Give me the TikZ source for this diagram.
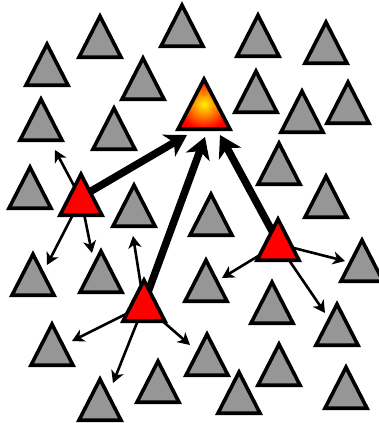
\documentclass[tikz,border=0pt]{standalone}
\usetikzlibrary{arrows.meta, shapes.geometric, backgrounds}
\definecolor{peergray}{HTML}{969696}
\definecolor{seedred}{HTML}{FF0000}
\definecolor{hubyellow}{HTML}{FFF200}

\begin{document}
\begin{tikzpicture}[x=1pt, y=-1pt,
    tri/.style={isosceles triangle, shape border rotate=90, isosceles triangle stretches,
      minimum width=42pt, minimum height=41pt, inner sep=0pt, draw=black, line width=3.6pt,
      anchor=lower side},
    peer/.style={tri, fill=peergray},
    seed/.style={tri, fill=seedred},
    hub/.style={tri, minimum width=52pt, minimum height=50pt, inner color=hubyellow, outer color=seedred},
    bigarrow/.style={-{Stealth[length=21pt, width=25pt, inset=6pt]}, line width=7.5pt},
    smallarrow/.style={-{Stealth[length=12pt, width=13pt, inset=3.5pt]}, line width=2.6pt}]
  \useasboundingbox (0,0) rectangle (379,423);

  % grey neighbours (x and base line y)
  \foreach \n/\x/\y in {1/47/87, 2/100/59, 3/182/48, 4/143/101, 5/41/142, 6/114/151,
      7/30/210, 8/134/228, 9/258/58, 10/326/65, 11/256/114, 12/302/134, 13/348/125,
      14/279/186, 15/326/219, 16/211/237, 17/33/297, 18/101/294, 19/52/367,
      20/100/422, 21/158/404, 22/362/283, 23/206/303, 24/272/325, 25/337/347,
      26/207/377, 27/279/387, 28/239/415, 29/346/410}
    \node[peer] (g\n) at (\x,\y) {};

  % target and the three senders
  \node[hub] (gold) at (204,131) {};
  \node[seed] (redA) at (81,217) {};
  \node[seed] (redB) at (144,323) {};
  \node[seed] (redC) at (278,262) {};

  % free ends of the small arrows
  \coordinate (a1) at (55,150);
  \coordinate (a2) at (47,265);
  \coordinate (a3) at (92,253);
  \coordinate (b1) at (133,236);
  \coordinate (b2) at (72,341);
  \coordinate (b3) at (113,383);
  \coordinate (b4) at (190,345);
  \coordinate (c1) at (345,261);
  \coordinate (c2) at (325,313);
  \coordinate (c3) at (222,278);

  \begin{scope}[on background layer]
    \draw[bigarrow] ([yshift=20]redA.lower side) -- ([shift={(-17,4)}]gold.lower side);
    \draw[bigarrow] ([yshift=20]redB.lower side) -- ([shift={(1,6)}]gold.lower side);
    \draw[bigarrow] ([yshift=20]redC.lower side) -- ([shift={(16,4)}]gold.lower side);
    \foreach \t in {a1,a2,a3} \draw[smallarrow] ([yshift=18]redA.lower side) -- (\t);
    \foreach \t in {b1,b2,b3,b4} \draw[smallarrow] ([yshift=18]redB.lower side) -- (\t);
    \foreach \t in {c1,c2,c3} \draw[smallarrow] ([yshift=18]redC.lower side) -- (\t);
  \end{scope}
\end{tikzpicture}
\end{document}
